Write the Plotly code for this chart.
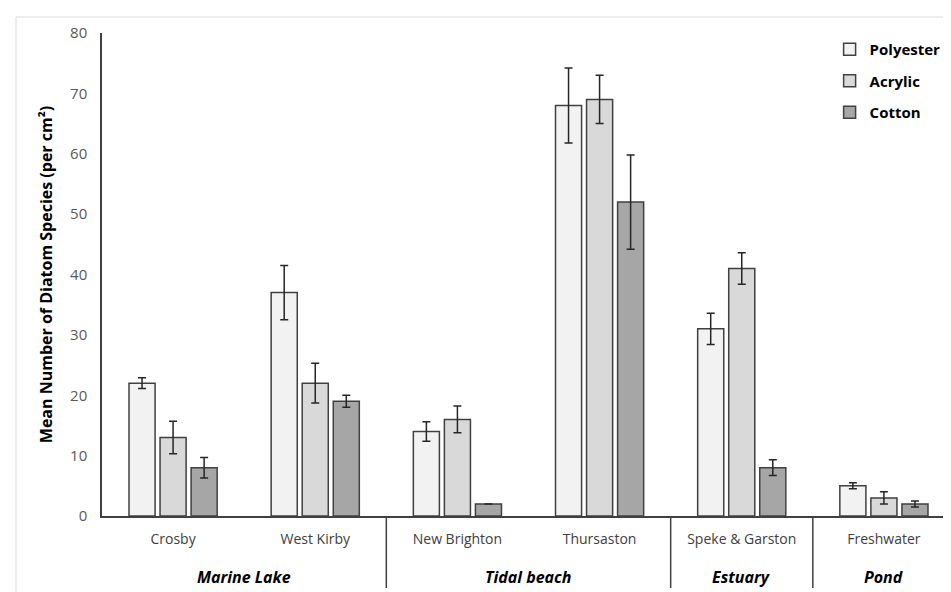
import plotly.graph_objects as go

groups = ["Marine Lake", "Marine Lake", "Tidal beach", "Tidal beach", "Estuary", "Pond"]
sites = ["Crosby", "West Kirby", "New Brighton", "Thursaston", "Speke & Garston", "Freshwater"]

polyester = [22, 37, 14, 68, 31, 5]
polyester_err = [0.9, 4.5, 1.6, 6.2, 2.6, 0.5]
acrylic = [13, 22, 16, 69, 41, 3]
acrylic_err = [2.7, 3.3, 2.2, 4.0, 2.6, 1.0]
cotton = [8, 19, 2, 52, 8, 2]
cotton_err = [1.7, 1.0, 0, 7.8, 1.3, 0.5]

series = [
    ("Polyester", polyester, polyester_err, "#f2f2f2"),
    ("Acrylic", acrylic, acrylic_err, "#d9d9d9"),
    ("Cotton", cotton, cotton_err, "#a6a6a6"),
]

PLOT_H = 592 - 25 - 84  # plot-area height in px

fig = go.Figure()
for name, vals, errs, col in series:
    fig.add_trace(go.Bar(
        name=name,
        x=sites,
        y=vals,
        marker=dict(color=col, line=dict(color="#404040", width=1.5)),
        error_y=dict(type="data", array=errs, visible=True, color="#262626", thickness=1.5, width=4),
        legendgroup=name,
    ))

# group labels (centred under their sites) and dividers between groups
ordered = []
for i, g in enumerate(groups):
    if not ordered or ordered[-1][0] != g:
        ordered.append([g, i, i])
    else:
        ordered[-1][2] = i
for k, (g, i0, i1) in enumerate(ordered):
    fig.add_annotation(
        x=(i0 + i1) / 2, xref="x", y=0, yref="paper", yshift=-61,
        text="<b><i>%s</i></b>" % g, showarrow=False, yanchor="middle",
        font=dict(size=16, color="black", family="Open Sans, sans-serif"),
    )
    if k > 0:
        fig.add_shape(type="line", xref="x", yref="paper",
                      x0=i0 - 0.5, x1=i0 - 0.5, y0=0, y1=-72 / PLOT_H,
                      line=dict(color="#404040", width=1.5))

fig.update_layout(
    width=951, height=592,
    margin=dict(l=94, r=4, t=25, b=84),
    paper_bgcolor="white", plot_bgcolor="white",
    barmode="group", bargap=0.345, bargroupgap=0.16,
    font=dict(family="Open Sans, sans-serif", color="#595959", size=14),
    legend=dict(
        x=0.853, y=1.0, xanchor="left", yanchor="top",
        font=dict(size=15, color="black", family="Open Sans, sans-serif", weight="bold"),
        tracegroupgap=9, bgcolor="rgba(0,0,0,0)",
    ),
    showlegend=True,
)
fig.update_yaxes(
    range=[0, 80], dtick=10, showgrid=False, zeroline=False, automargin=False,
    showline=True, linecolor="#404040", linewidth=1.5,
    ticks="outside", ticklen=10, tickcolor="rgba(0,0,0,0)",
    tickfont=dict(size=15, color="#595959"),
    title=dict(text="<b>Mean Number of Diatom Species (per cm²)</b>",
               font=dict(size=16, color="black"), standoff=13),
)
fig.update_xaxes(
    type="category", showgrid=False, showline=True, linecolor="#404040",
    linewidth=1.5, ticks="outside", ticklen=9, tickcolor="rgba(0,0,0,0)",
    automargin=False, range=[-0.5, len(sites) - 0.5],
    tickfont=dict(size=14, color="#404040"),
)

# light border around the figure
fig.add_shape(type="rect", xref="paper", yref="paper",
              x0=(8 - 94) / 853, x1=(949 - 94) / 853,
              y0=(508 - 590) / PLOT_H, y1=(508 - 9) / PLOT_H,
              line=dict(color="#dcdcdc", width=1), layer="below")

fig.write_html("out.html")
